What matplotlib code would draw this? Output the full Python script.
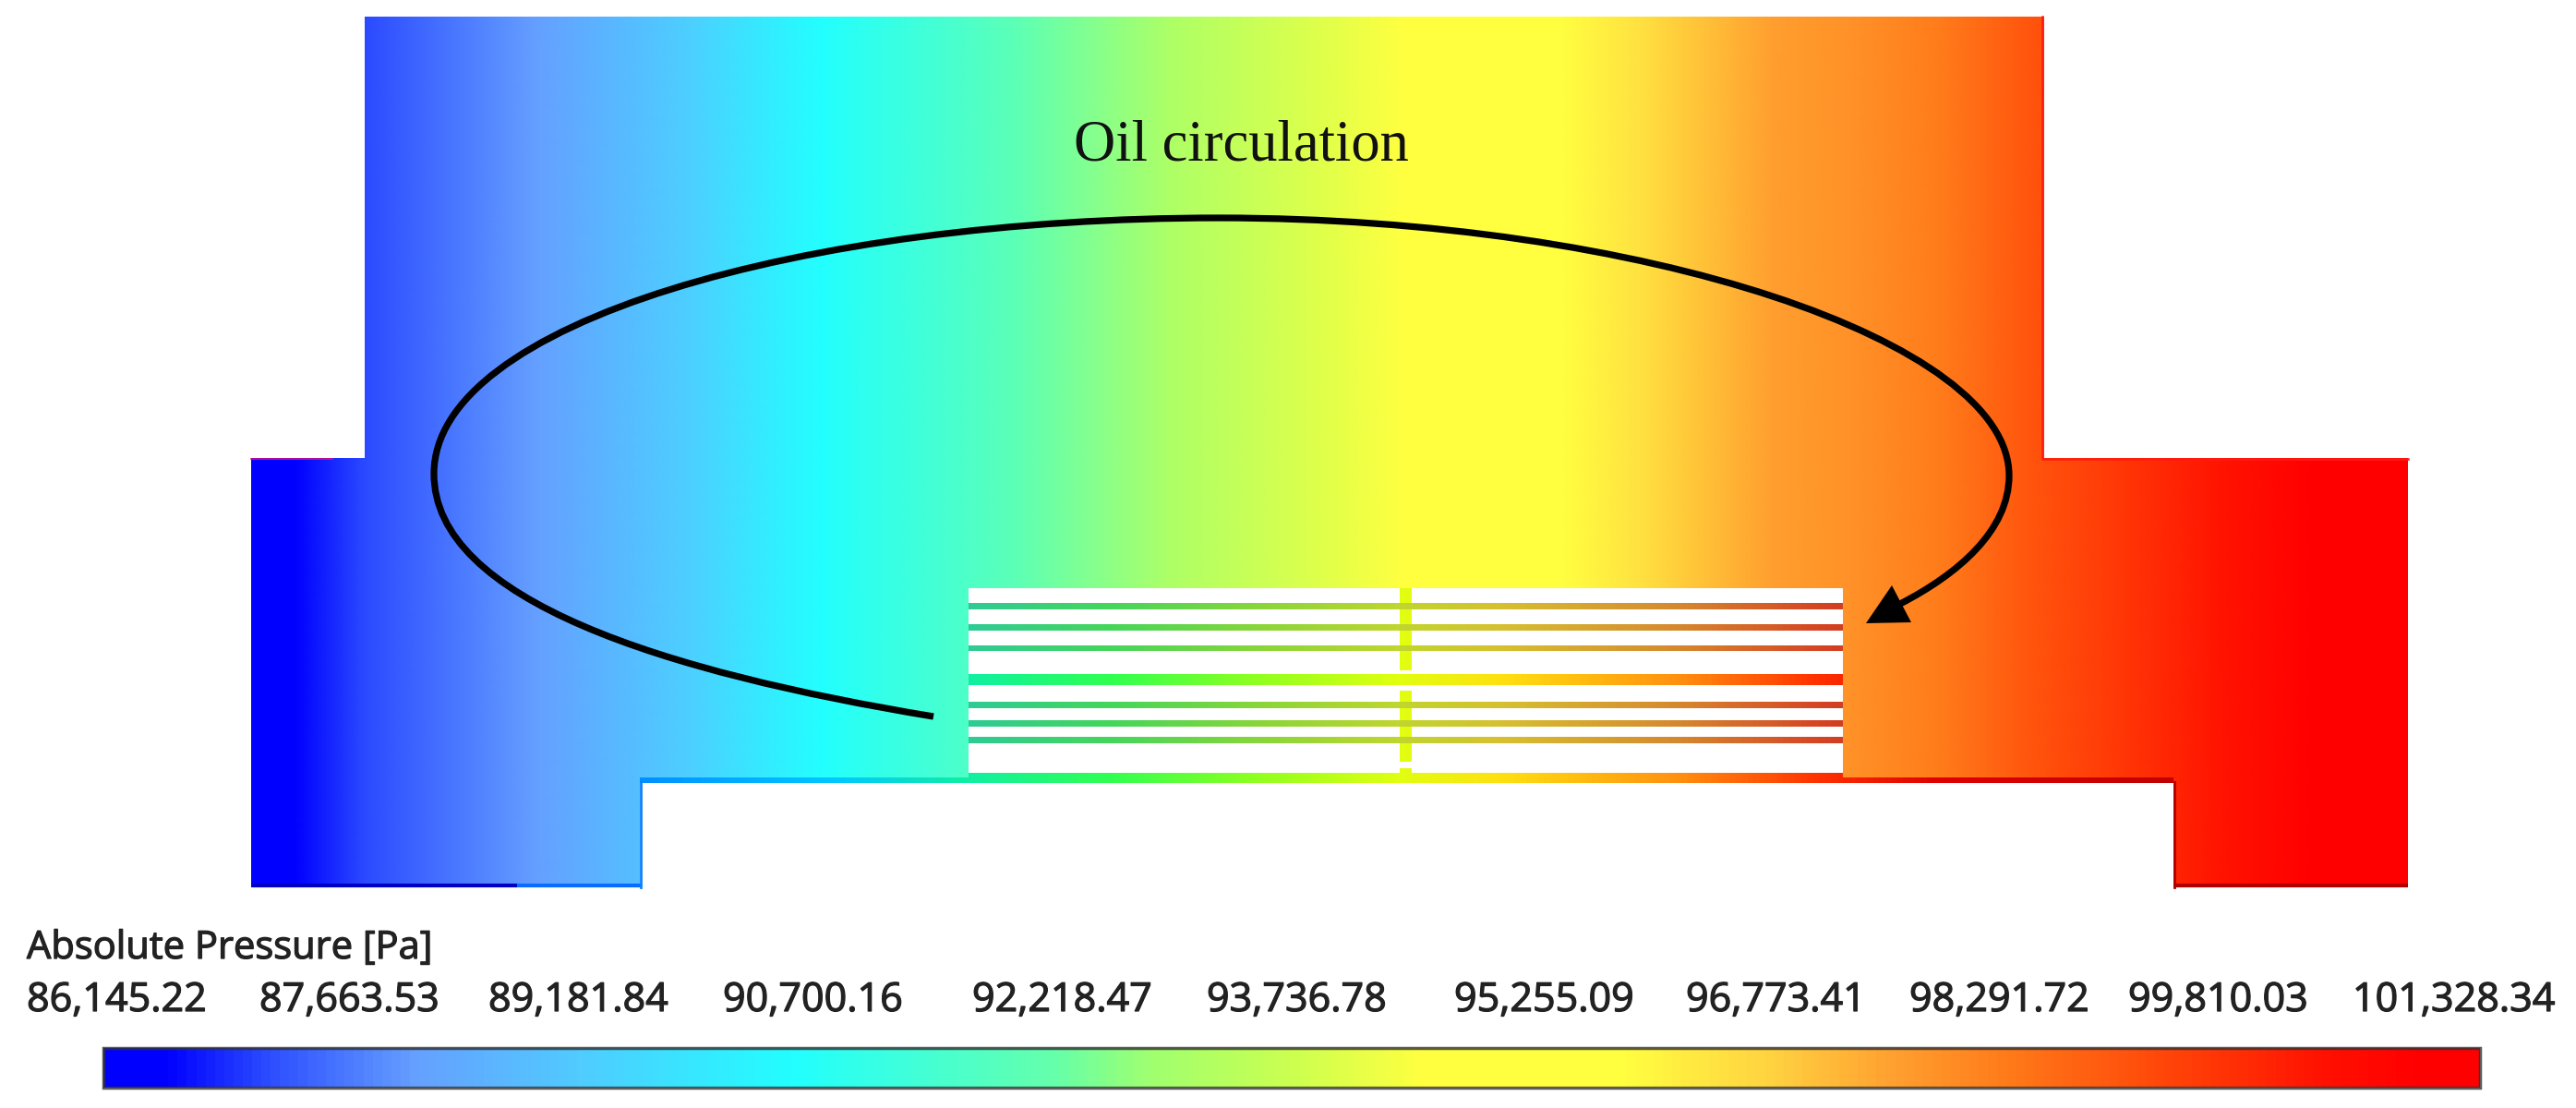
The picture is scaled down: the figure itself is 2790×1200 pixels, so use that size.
import numpy as np
import matplotlib
matplotlib.use("Agg")
import matplotlib.pyplot as plt
import matplotlib.patheffects as pe
from matplotlib.colors import LinearSegmentedColormap, Normalize
from matplotlib.patches import Polygon, PathPatch, Rectangle
from matplotlib.path import Path

# Pressure scale
p_min = 86145.22
p_max = 101328.34
tick_labels = ["86,145.22", "87,663.53", "89,181.84", "90,700.16", "92,218.47", "93,736.78",
               "95,255.09", "96,773.41", "98,291.72", "99,810.03", "101,328.34"]
tick_left = [29, 281, 529, 783, 1053, 1307, 1575, 1826, 2068, 2305, 2548]

# colour stops of the legend bar
cmap_pos = [0.0, 0.025, 0.07, 0.13, 0.20, 0.29, 0.40, 0.44, 0.50, 0.555, 0.64, 0.705, 0.754, 0.803, 0.864, 0.938, 0.975, 1.0]
cmap_col = ["#0000ff", "#0000ff", "#2e50ff", "#66a0ff", "#50ccff", "#22ffff", "#66ffaa", "#9fff70", "#ccff50",
            "#ffff40", "#ffff40", "#ffd040", "#ffa030", "#ff7a1a", "#ff4a0a", "#ff1000", "#ff0000", "#ff0000"]
cmap = LinearSegmentedColormap.from_list("fluent", list(zip(cmap_pos, cmap_col)))

# pressure read across the oil domain (pixels, Pa)
field_x = [272, 320, 395, 580, 750, 890, 1100, 1267, 1433, 1520, 1690, 1779, 1921, 2000, 2100, 2201, 2302, 2403, 2504, 2608]
field_p = [86145, 86449, 87208, 88119, 89334, 90548, 91990, 93129, 94040, 94800, 95710, 96470, 97593, 97836,
           98292, 99051, 99658, 100266, 101025, 101328]

# stronger colours along the walls and in the gaps between the plates
gap_pos = [0.0, 0.125, 0.215, 0.306, 0.402, 0.494, 0.563, 0.678, 0.77, 0.848, 1.0]
gap_col = ["#0090ff", "#00c8ff", "#10f0a0", "#30ff50", "#90ff20", "#e0ff10", "#ffe010", "#ff9010", "#ff3000",
           "#e00000", "#c00000"]
gap_cmap = LinearSegmentedColormap.from_list("gap", list(zip(gap_pos, gap_col)))

outline_x = [395, 2214, 2214, 2608, 2608, 2354, 2354, 693, 693, 272, 272, 395]
outline_y = [18, 18, 496, 496, 961, 961, 847, 847, 961, 961, 496, 496]
stack_x = [1049, 1996, 1996, 2354, 2354, 693, 693, 1049]
stack_y = [637, 637, 842, 842, 848, 848, 842, 842]

# white slots between the plates
slot_top = [637, 660, 683, 705, 742, 767, 787, 805, 832]
slot_bot = [653, 676, 699, 728, 760, 780, 798, 826, 837]
thin_rows = [(653, 660), (676, 683), (699, 705), (760, 767), (780, 787), (798, 805), (826, 832)]
tie_x = [1516, 1529]

plt.rcParams["font.family"] = ["Open Sans", "DejaVu Sans"]
fig = plt.figure(figsize=(27.9, 12), dpi=100)
ax = fig.add_axes([0, 0, 1, 1])

norm = Normalize(p_min, p_max)

# oil domain
mesh = ax.pcolormesh(field_x, [18, 961], np.array([field_p, field_p]), cmap=cmap, norm=norm, shading="gouraud", zorder=1)
mesh.set_clip_path(Polygon(np.column_stack([outline_x, outline_y]), closed=True, transform=ax.transData))

# wall strip and plate stack
gap_img = ax.imshow(np.linspace(0, 1, 512)[None, :], extent=(693, 2354, 848, 634), cmap=gap_cmap, aspect="auto",
                    interpolation="bilinear", zorder=2)
gap_img.set_clip_path(Polygon(np.column_stack([stack_x, stack_y]), closed=True, transform=ax.transData))
for top, bot in thin_rows:
    ax.add_patch(Rectangle((1049, top), 947, bot - top, fc="#777777", ec="none", alpha=0.3, zorder=3))
for top, bot in zip(slot_top, slot_bot):
    ax.add_patch(Rectangle((1049, top), tie_x[0] - 1049, bot - top, fc="white", ec="none", zorder=3))
    ax.add_patch(Rectangle((tie_x[1], top), 1996 - tie_x[1], bot - top, fc="white", ec="none", zorder=3))
# slots run through the tie at the ends of each stack
for top, bot in [(726, 730), (742, 748), (825, 832)]:
    ax.add_patch(Rectangle((1049, top), 947, bot - top, fc="white", ec="none", zorder=3))

# thin coloured wall edges
ax.plot([272, 360], [497, 497], color="#d0108a", lw=1.2, zorder=3)
ax.plot([2212, 2212, 2608], [18, 497, 497], color="#ff1a10", lw=1.8, zorder=3)
ax.plot([272, 560], [959, 959], color="#0000c4", lw=3, solid_capstyle="butt", zorder=3)
ax.plot([560, 695], [959, 959], color="#0a6cff", lw=3, solid_capstyle="butt", zorder=3)
ax.plot([694, 694], [847, 961], color="#0a80ff", lw=2, zorder=3)
ax.plot([2355, 2355], [847, 961], color="#b00000", lw=2, zorder=3)
ax.plot([2354, 2608], [959, 959], color="#b00000", lw=3, solid_capstyle="butt", zorder=3)

# circulation arrow
verts = [(1011, 776), (720, 728), (470, 650), (470, 513),
         (470, 350), (870, 236), (1320, 236),
         (1780, 236), (2176, 370), (2176, 515),
         (2176, 575), (2120, 622), (2058, 654)]
codes = [Path.MOVETO] + [Path.CURVE4] * 12
ax.add_patch(PathPatch(Path(verts, codes), fc="none", ec="black", lw=5.2, capstyle="butt", zorder=5))
ax.add_patch(Polygon([(2021, 675), (2049, 634), (2070, 674)], closed=True, fc="black", ec="none", zorder=5))

ax.text(1344, 173, "Oil circulation", family=["Liberation Serif"], fontsize=45, ha="center", va="baseline",
        color="#111111", zorder=6)

# legend
stroke = [pe.withStroke(linewidth=0.9, foreground="#222222")]
ax.text(29, 1038, "Absolute Pressure [Pa]", fontsize=30, ha="left", va="baseline", color="#222222", path_effects=stroke)
for x, label in zip(tick_left, tick_labels):
    ax.text(x, 1095, label, fontsize=31, ha="left", va="baseline", color="#222222", path_effects=stroke)
bar = np.linspace(p_min, p_max, 512)
ax.imshow(bar[None, :], extent=(112, 2686, 1178, 1135), cmap=cmap, norm=norm, aspect="auto", zorder=2)
ax.add_patch(Rectangle((112, 1135), 2574, 43, fc="none", ec="#333333", lw=2.5, alpha=0.8, zorder=3))

ax.set_xlim(0, 2790)
ax.set_ylim(1200, 0)
ax.axis("off")

fig.savefig("out.png", dpi=100, facecolor="white")
